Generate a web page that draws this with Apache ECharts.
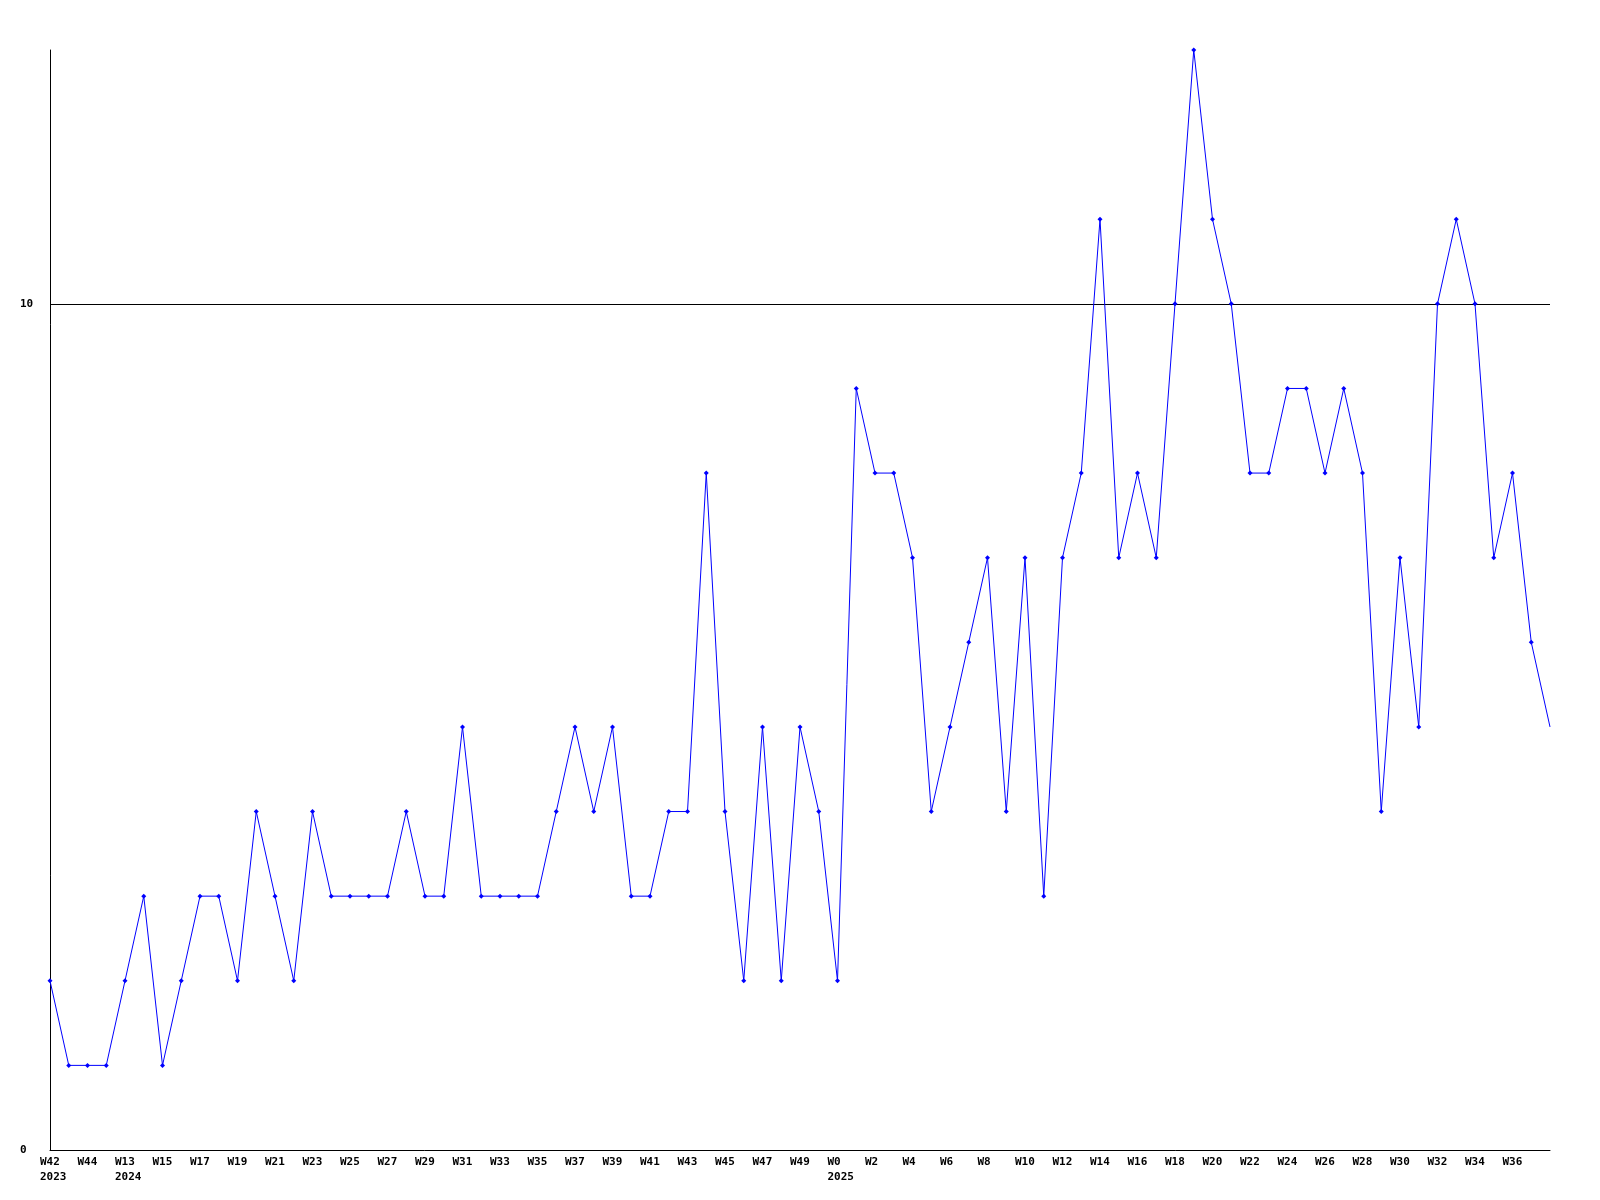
<!DOCTYPE html>
<html>
<head>
<meta charset="utf-8">
<script src="https://cdn.jsdelivr.net/npm/echarts@6/dist/echarts.min.js"></script>
<style>
    html, body { margin: 0; padding: 0; background: #fff; }
    #chart { width: 1600px; height: 1200px; }
</style>
</head>
<body>
<div id="chart"></div>
<script>
// weeks shown on the x axis
const weeks = [
    'W42', 'W43', 'W44', 'W45',
    'W13', 'W14', 'W15', 'W16', 'W17', 'W18', 'W19', 'W20', 'W21', 'W22', 'W23', 'W24',
    'W25', 'W26', 'W27', 'W28', 'W29', 'W30', 'W31', 'W32', 'W33', 'W34', 'W35', 'W36',
    'W37', 'W38', 'W39', 'W40', 'W41', 'W42', 'W43', 'W44', 'W45', 'W46', 'W47', 'W48',
    'W49', 'W50',
    'W0', 'W1', 'W2', 'W3', 'W4', 'W5', 'W6', 'W7', 'W8', 'W9', 'W10', 'W11', 'W12',
    'W13', 'W14', 'W15', 'W16', 'W17', 'W18', 'W19', 'W20', 'W21', 'W22', 'W23', 'W24',
    'W25', 'W26', 'W27', 'W28', 'W29', 'W30', 'W31', 'W32', 'W33', 'W34', 'W35', 'W36',
    'W37', 'W38'
];
// year shown under the first week of each year
const years = { 0: '2023', 4: '2024', 42: '2025' };

const counts = [
    2, 1, 1, 1, 2, 3, 1, 2, 3, 3,
    2, 4, 3, 2, 4, 3, 3, 3, 3, 4,
    3, 3, 5, 3, 3, 3, 3, 4, 5, 4,
    5, 3, 3, 4, 4, 8, 4, 2, 5, 2,
    5, 4, 2, 9, 8, 8, 7, 4, 5, 6,
    7, 4, 7, 3, 7, 8, 11, 7, 8, 7,
    10, 13, 11, 10, 8, 8, 9, 9, 8, 9,
    8, 4, 7, 5, 10, 11, 10, 7, 8, 6,
    5
];

const yTicks = [0, 10];

const font = {
    fontFamily: 'DejaVu Sans Mono',
    fontWeight: 'bold',
    fontSize: 11,
    color: '#000'
};

let chart = echarts.init(document.getElementById('chart'));
const last = counts.length - 1;

const option = {
    animation: false,
    backgroundColor: '#fff',
    grid: {
        left: 50,
        right: 50,
        top: 50,
        bottom: 50
    },
    xAxis: {
        type: 'category',
        boundaryGap: false,
        data: weeks,
        axisLine: { lineStyle: { color: '#000', width: 1 } },
        axisTick: { show: false },
        splitLine: { show: false },
        axisLabel: Object.assign({}, font, {
            interval: function (i) { return i % 2 === 0 && i < last; },
            margin: 5,
            align: 'center',
            lineHeight: 15,
            formatter: function (v, i) {
                let s = '{a|' + v + '}';
                if (years[i]) s += '\n{a|' + years[i] + '}';
                return s;
            },
            rich: {
                a: Object.assign({}, font, { width: 20, align: 'left', lineHeight: 15 })
            }
        })
    },
    yAxis: {
        type: 'value',
        min: yTicks[0],
        max: 13,
        interval: yTicks[1] - yTicks[0],
        axisLine: { show: true, lineStyle: { color: '#000', width: 1 } },
        axisTick: { show: false },
        splitLine: {
            show: true,
            showMinLine: false,
            showMaxLine: false,
            lineStyle: { color: '#000', width: 1 }
        },
        axisLabel: Object.assign({}, font, {
            margin: 30,
            align: 'left',
            showMaxLabel: false
        })
    },
    series: [
        {
            type: 'line',
            data: counts,
            symbol: 'diamond',
            symbolSize: function (v, p) { return p.dataIndex === last ? 0 : 5; },
            lineStyle: { color: '#0000ff', width: 1 },
            itemStyle: { color: '#0000ff' }
        }
    ]
};

chart.setOption(option);

window.addEventListener('resize', function () {
    chart.resize();
});
</script>
</body>
</html>
